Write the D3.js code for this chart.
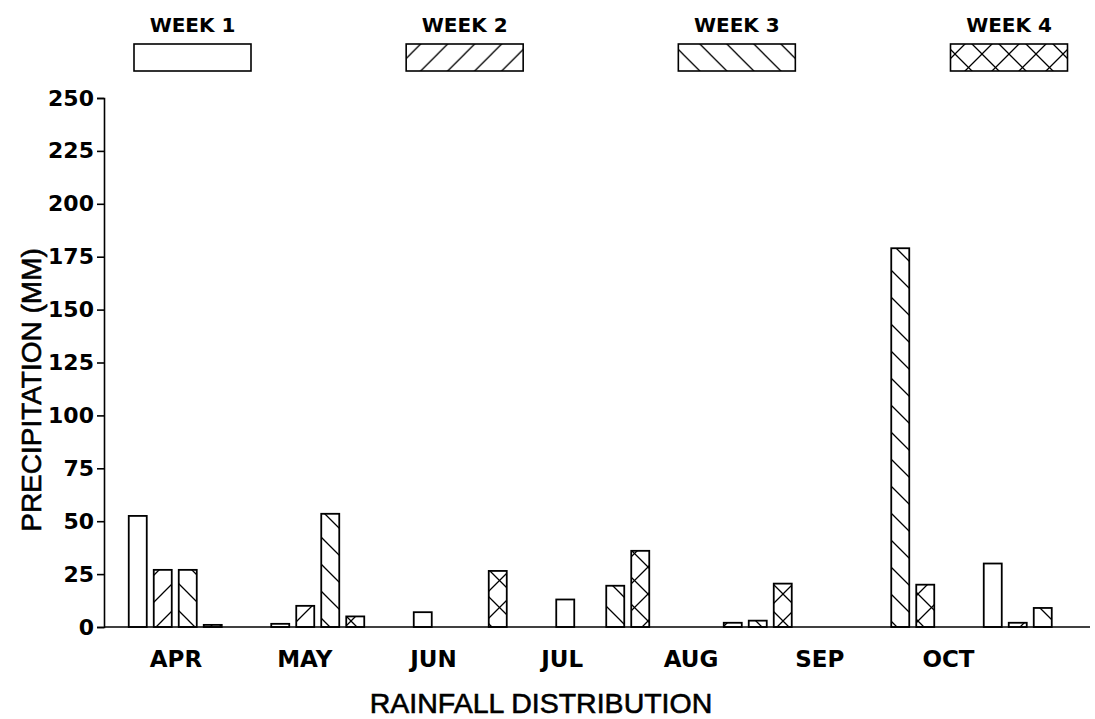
<!DOCTYPE html>
<html>
<head>
<meta charset="utf-8">
<script src="https://cdn.jsdelivr.net/npm/d3@7"></script>
<style>
  body { margin: 0; background: #fff; }
  svg { display: block; }
  .tick text { fill: #000; }
</style>
</head>
<body>
<svg id="chart"></svg>
<script>
// rainfall per week, mm
var months = ["APR", "MAY", "JUN", "JUL", "AUG", "SEP", "OCT"];
var weeks = ["WEEK 1", "WEEK 2", "WEEK 3", "WEEK 4"];
var week1 = [52.5, 1.5, 7, 13, 0, 0, 30];
var week2 = [27, 10, 0, 0, 2, 0, 2];
var week3 = [27, 53.5, 0, 19.5, 3, 179, 9];
var week4 = [1, 5, 26.5, 36, 20.5, 20, 0];
var yTicks = [0, 25, 50, 75, 100, 125, 150, 175, 200, 225, 250];

var series = [week1, week2, week3, week4];
var fills = ["none", "url(#hatchUp)", "url(#hatchDown)", "url(#hatchCross)"];

var width = 1095, height = 719;
var margin = {top: 98, right: 5, bottom: 92, left: 104};

var svg = d3.select("#chart").attr("width", width).attr("height", height);

// hatch patterns
var defs = svg.append("defs");
var P = 27;
var makePattern = function(id, paths) {
  var p = defs.append("pattern")
      .attr("id", id)
      .attr("patternUnits", "userSpaceOnUse")
      .attr("width", P).attr("height", P);
  p.append("rect").attr("width", P).attr("height", P).attr("fill", "#fff");
  paths.forEach(function(d) {
    p.append("path").attr("d", d).attr("stroke", "#000").attr("stroke-width", 1.3).attr("fill", "none");
  });
}
var up = "M0," + P + " L" + P + ",0 M-2,2 L2,-2 M" + (P - 2) + "," + (P + 2) + " L" + (P + 2) + "," + (P - 2);
var down = "M0,0 L" + P + "," + P + " M-2," + (P - 2) + " L2," + (P + 2) + " M" + (P - 2) + ",-2 L" + (P + 2) + ",2";
makePattern("hatchUp", [up]);
makePattern("hatchDown", [down]);
makePattern("hatchCross", [up, down]);

var y = d3.scaleLinear().domain([0, 250]).range([height - margin.bottom, margin.top]);

var x0 = d3.scaleBand().domain(months)
    .range([margin.left, margin.left + 997.5])
    .paddingInner(0.3).paddingOuter(0.15);
var x1 = d3.scaleBand().domain(d3.range(weeks.length))
    .range([0, 93]).paddingInner(0.28);
var groupOffset = (x0.bandwidth() - 93) / 2;

// month labels sit on their own spacing in the original figure
var xLab = d3.scalePoint().domain(months).range([175.5, 948]);

// bars
var bars = [];
months.forEach(function(m, i) {
  series.forEach(function(s, j) {
    if (s[i] > 0) bars.push({month: m, week: j, value: s[i]});
  });
});

svg.append("g").selectAll("rect")
    .data(bars)
  .enter().append("rect")
    .attr("x", function(d) { return x0(d.month) + groupOffset + x1(d.week); })
    .attr("y", function(d) { return y(d.value); })
    .attr("width", x1.bandwidth())
    .attr("height", function(d) { return y(0) - y(d.value); })
    .attr("fill", function(d) { return d.week == 0 ? "#fff" : fills[d.week]; })
    .attr("stroke", "#000")
    .attr("stroke-width", 1.8);

// y axis
var yAxis = svg.append("g")
    .attr("transform", "translate(" + margin.left + ",0)")
    .call(d3.axisLeft(y).tickValues(yTicks).tickSize(7).tickPadding(3));
yAxis.selectAll("path, line").attr("stroke", "#000").attr("stroke-width", 1.6);
yAxis.selectAll("text")
    .attr("font-family", "DejaVu Sans")
    .attr("font-weight", "bold")
    .attr("font-size", 22);

// baseline
svg.append("line")
    .attr("x1", margin.left).attr("x2", 1090)
    .attr("y1", y(0)).attr("y2", y(0))
    .attr("stroke", "#000").attr("stroke-width", 1.6);

// month labels
var xAxis = svg.append("g")
    .attr("transform", "translate(0," + y(0) + ")")
    .call(d3.axisBottom(xLab).tickSize(0).tickPadding(24));
xAxis.select(".domain").remove();
xAxis.selectAll("text")
    .attr("font-family", "DejaVu Sans")
    .attr("font-weight", "bold")
    .attr("font-size", 23);

// axis titles
svg.append("text")
    .attr("transform", "translate(41," + 390 + ") rotate(-90)")
    .attr("text-anchor", "middle")
    .attr("font-family", "Liberation Sans")
    .attr("font-size", 28)
    .attr("stroke", "#000").attr("stroke-width", 0.6)
    .text("PRECIPITATION (MM)");

svg.append("text")
    .attr("x", 541).attr("y", 713)
    .attr("text-anchor", "middle")
    .attr("font-family", "Liberation Sans")
    .attr("font-size", 28.5)
    .attr("stroke", "#000").attr("stroke-width", 0.6)
    .text("RAINFALL DISTRIBUTION");

// legend
var xLeg = d3.scalePoint().domain(weeks).range([192.5, 1009]);
var leg = svg.append("g").selectAll("g")
    .data(weeks)
  .enter().append("g")
    .attr("transform", function(d) { return "translate(" + xLeg(d) + ",0)"; });
leg.append("text")
    .attr("y", 32)
    .attr("text-anchor", "middle")
    .attr("font-family", "DejaVu Sans")
    .attr("font-weight", "bold")
    .attr("font-size", 20)
    .text(function(d) { return d; });
leg.append("rect")
    .attr("x", -58.5).attr("y", 44)
    .attr("width", 117).attr("height", 27)
    .attr("fill", function(d, i) { return i == 0 ? "#fff" : fills[i]; })
    .attr("stroke", "#000")
    .attr("stroke-width", 1.6);
</script>
</body>
</html>
